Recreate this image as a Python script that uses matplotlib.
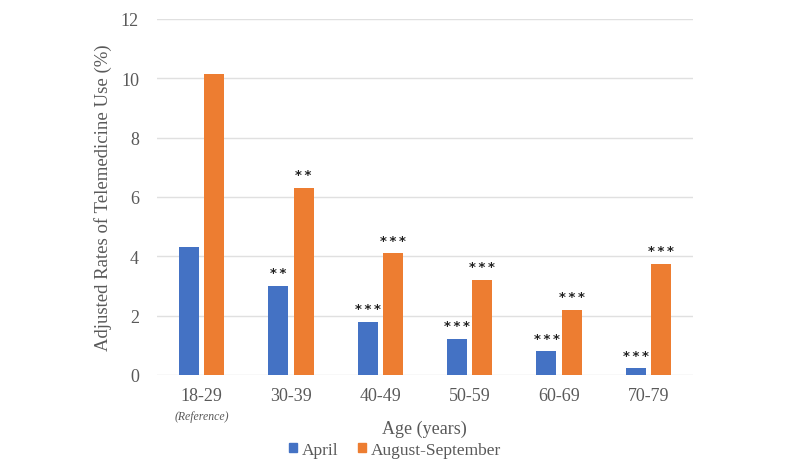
import numpy as np
import matplotlib.pyplot as plt
from matplotlib.patches import Patch

plt.rcParams['font.family'] = ['Liberation Serif', 'DejaVu Serif']

ages = ["18-29", "30-39", "40-49", "50-59", "60-69", "70-79"]
april = [4.33, 3.0, 1.8, 1.21, 0.8, 0.22]
aug_sep = [10.15, 6.3, 4.1, 3.2, 2.19, 3.74]
april_sig = ["", "**", "***", "***", "***", "***"]
aug_sig = ["", "**", "***", "***", "***", "***"]

blue = "#4472C4"
orange = "#ED7D31"
txt = "#595959"

fig = plt.figure(figsize=(8, 4.64), dpi=100)
ax = fig.add_axes([0.19625, 0.1897, 0.67, 0.7672])

x = np.arange(len(ages))
w = 0.224
gap = 0.056
b1 = ax.bar(x - w / 2 - gap / 2, april, w, color=blue, zorder=3)
b2 = ax.bar(x + w / 2 + gap / 2, aug_sep, w, color=orange, zorder=3)

# significance stars (slightly spaced out like the original)
for bars, sig in [(b1, april_sig), (b2, aug_sig)]:
    for r, s in zip(bars, sig):
        if s:
            ax.annotate("\u2009".join(s), (r.get_x() + r.get_width() / 2, r.get_height()),
                        xytext=(0, 9.5), textcoords="offset points",
                        ha="center", va="center", fontsize=9.5,
                        fontweight="bold", color="#222222",
                        family=["DejaVu Sans"])

ax.set_ylim(0, 12)
ax.set_yticks(range(0, 13, 2))
ax.set_xlim(-0.5, 5.5)
ax.set_xticks(x)
ax.set_xticklabels(ages)
ax.tick_params(axis="x", length=0, labelsize=13, colors=txt, pad=9)
ax.tick_params(axis="y", length=0, labelsize=13, colors=txt, pad=13)
ax.yaxis.grid(True, color="#e0e0e0", linewidth=1, zorder=0)
for sp in ax.spines.values():
    sp.set_visible(False)

ax.set_ylabel("Adjusted Rates of Telemedicine Use (%)", fontsize=13.5, color=txt, labelpad=6)
ax.text(0, -1.38, "(Reference)", style="italic", fontsize=8.5, color=txt,
        ha="center", va="center")
fig.text(0.531, 0.075, "Age (years)", ha="center", va="center", fontsize=13, color=txt)

handles = [Patch(color=blue, label="April"), Patch(color=orange, label="August-September")]
fig.legend(handles=handles, loc="center", bbox_to_anchor=(0.494, 0.029), ncol=2,
           frameon=False, fontsize=12.5, handlelength=0.45, handleheight=0.45,
           handletextpad=0.3, columnspacing=1.1, labelcolor=txt, borderpad=0)

fig.savefig("out.png", dpi=100)
